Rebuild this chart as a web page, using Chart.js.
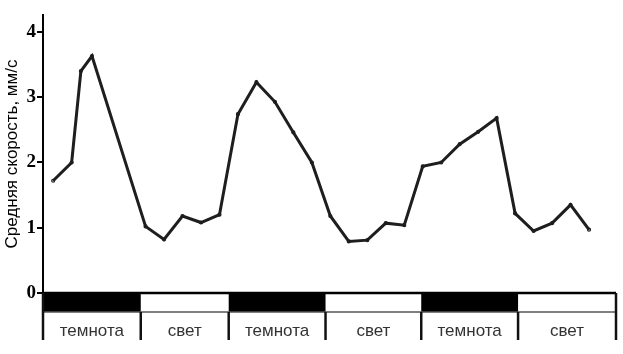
<!DOCTYPE html>
<html><head><meta charset="utf-8">
<script src="https://cdn.jsdelivr.net/npm/chart.js@4"></script>
<style>html,body{margin:0;padding:0;background:#fff}</style>
</head><body>
<canvas id="c" width="623" height="354"></canvas>
<script>
const time = [0, 1, 1.5, 2.1, 5, 6, 7, 8, 9, 10, 11, 12, 13, 14, 15, 16, 17, 18, 19, 20, 21, 22, 23, 24, 25, 26, 27, 28, 29];
const speed = [1.72, 2.00, 3.40, 3.63, 1.02, 0.82, 1.18, 1.08, 1.20, 2.74, 3.23, 2.93, 2.46, 2.00, 1.18, 0.79, 0.81, 1.07, 1.04, 1.94, 2.00, 2.28, 2.47, 2.68, 1.22, 0.95, 1.07, 1.35, 0.97];
const yTicks = [0, 1, 2, 3, 4];
const periodEdges = [-0.55, 4.74, 9.5, 14.74, 19.92, 25.16, 30.46];
const periodLabels = ['темнота', 'свет', 'темнота', 'свет', 'темнота', 'свет'];
const periodDark = [true, false, true, false, true, false];
const yTitle = 'Средняя скорость, мм/с';

const bandsPlugin = {
  id: 'bands',
  afterDraw(chart) {
    const {ctx, chartArea, scales: {x}} = chart;
    const top = chartArea.bottom, mid = top + 19, bot = top + 47;
    ctx.save();
    for (let i = 0; i < periodLabels.length; i++) {
      const x0 = x.getPixelForValue(periodEdges[i]);
      const x1 = x.getPixelForValue(periodEdges[i + 1]);
      if (periodDark[i]) {
        ctx.fillStyle = '#000';
        ctx.fillRect(x0, top, x1 - x0, mid - top);
      }
      ctx.fillStyle = '#333';
      ctx.font = '17px "Liberation Sans", Arial, sans-serif';
      ctx.textAlign = 'center';
      ctx.textBaseline = 'alphabetic';
      ctx.fillText(periodLabels[i], (x0 + x1) / 2, top + 43);
    }
    const xl = x.getPixelForValue(periodEdges[0]);
    const xr = x.getPixelForValue(periodEdges[periodEdges.length - 1]);
    ctx.strokeStyle = '#000';
    ctx.lineWidth = 2.5;
    ctx.beginPath(); ctx.moveTo(xl, top); ctx.lineTo(xr, top); ctx.stroke();
    ctx.strokeStyle = '#555';
    ctx.lineWidth = 1.5;
    ctx.beginPath(); ctx.moveTo(xl, mid); ctx.lineTo(xr, mid); ctx.stroke();
    ctx.strokeStyle = '#111';
    ctx.lineWidth = 2.5;
    periodEdges.forEach((e, i) => {
      const px = x.getPixelForValue(e);
      const y0 = (i === 0 || i === periodEdges.length - 1) ? top : mid;
      ctx.beginPath(); ctx.moveTo(px, y0); ctx.lineTo(px, bot); ctx.stroke();
    });
    ctx.restore();
  }
};

new Chart(document.getElementById('c'), {
  type: 'line',
  data: {
    datasets: [{
      data: time.map((t, i) => ({x: t, y: speed[i]})),
      borderColor: '#1e1e1e',
      backgroundColor: '#1e1e1e',
      borderWidth: 3,
      pointRadius: 0.6,
      tension: 0,
      fill: false
    }]
  },
  options: {
    responsive: false,
    devicePixelRatio: 1,
    animation: false,
    layout: {padding: {top: 15, right: 6, bottom: 61, left: 0}},
    plugins: {legend: {display: false}, tooltip: {enabled: false}},
    scales: {
      x: {type: 'linear', min: periodEdges[0], max: periodEdges[periodEdges.length - 1], display: false},
      y: {
        min: 0, max: 4.26,
        afterBuildTicks: s => { s.ticks = yTicks.map(v => ({value: v})); },
        afterFit: s => { s.width = 43; },
        grid: {drawOnChartArea: false, drawTicks: true, tickLength: 6, color: '#000', lineWidth: 2},
        border: {display: true, color: '#000', width: 2},
        ticks: {font: {family: '"Liberation Serif", "Times New Roman", serif', weight: 'bold', size: 19}, color: '#000', padding: 1},
        title: {display: true, text: yTitle, font: {family: '"Liberation Sans", Arial, sans-serif', size: 17}, color: '#000', padding: {top: 2, bottom: 0}}
      }
    }
  },
  plugins: [bandsPlugin]
});
</script>
</body></html>
